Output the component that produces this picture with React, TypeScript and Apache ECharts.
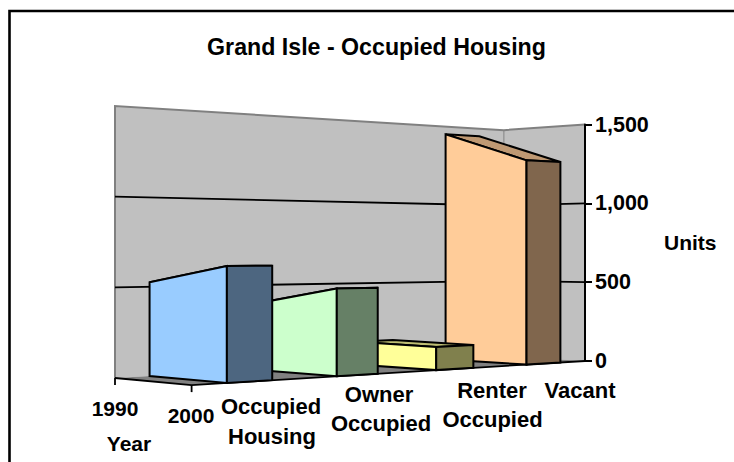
import React, { useEffect, useRef } from "react";
import * as echarts from "echarts";

const title = "Grand Isle - Occupied Housing";
const categories = ["Occupied Housing", "Owner Occupied", "Renter Occupied", "Vacant"];
const years = ["1990", "2000"];
const values1990 = [525, 393, 140, 1450];
const values2000 = [620, 490, 136, 1255];
const faceColors = ["#99CCFF", "#CCFFCC", "#FFFF99", "#FFCC99"];
const sideColors = ["#4D6680", "#668066", "#80804D", "#80664D"];
const topColors = ["#7399BF", "#99BF99", "#BFBF73", "#BF9973"];
const yMax = 1500;
const yStep = 500;
const ribbonWidth = 0.4; // share of a category band

const GRID = { left: 115, right: 149, top: 124.5, bottom: 101, outerBoundsMode: "none" };
const W = 734;
const H = 462;

// perspective of the plot box: u along categories, v from 1990 to 2000, w up the value axis
function project(u: number, v: number, w: number): number[] {
  const d = 1 + 0.2035 * u - 0.0535 * v;
  return [
    (115 + 491.4 * u + 66.35 * v) / d,
    (378 + 50.65 * u - 13.5 * v - 272 * w) / d,
  ];
}

const LABEL_FONT = { fontFamily: "Liberation Sans", fontWeight: "bold", fill: "#000" };

function labelText(text: string, x: number, y: number, fontSize: number) {
  return {
    type: "text",
    x,
    y,
    silent: true,
    style: { text, fontSize, textAlign: "center", textVerticalAlign: "middle", ...LABEL_FONT },
  };
}

function renderRoom(params: any, api: any) {
  const bottom = api.coord([0, 0])[1];
  const top = api.coord([0, yMax])[1];
  const wOf = (value: number) => (bottom - api.coord([0, value])[1]) / (bottom - top);
  const poly = (pts: number[][], style: any) => ({ type: "polygon", silent: true, shape: { points: pts }, style });
  const line = (pts: number[][], stroke: string, lineWidth: number) => ({
    type: "polyline",
    silent: true,
    shape: { points: pts },
    style: { stroke, lineWidth, fill: "none" },
  });
  const children: any[] = [
    poly([project(0, 0, 0), project(1, 0, 0), project(1, 0, 1), project(0, 0, 1)], { fill: "#C0C0C0" }),
    poly([project(1, 0, 0), project(1, 1, 0), project(1, 1, 1), project(1, 0, 1)], { fill: "#C0C0C0" }),
    line([project(0, 0, 0), project(0, 0, 1), project(1, 0, 1), project(1, 1, 1)], "#808080", 2),
    line([project(1, 0, 0), project(1, 0, 1)], "#808080", 1),
    poly([project(0, 0, 0), project(1, 0, 0), project(1, 1, 0), project(0, 1, 0)], { fill: "#808080" }),
  ];
  for (let value = yStep; value < yMax; value += yStep) {
    const w = wOf(value);
    children.push(line([project(0, 0, w), project(1, 0, w), project(1, 1, w)], "#000", 1.8));
  }
  children.push(line([project(0, 0, 0), project(0, 1, 0), project(1, 1, 0)], "#000", 1.8));
  years.forEach((_, i) => {
    const p = project(0, i, 0);
    children.push(line([p, [p[0], p[1] + 7]], "#000", 1.8));
  });
  return { type: "group", children };
}

function renderRibbon(params: any, api: any) {
  const idx = api.value(0);
  const bottom = api.coord([idx, 0])[1];
  const top = api.coord([idx, yMax])[1];
  const band = api.size([1, 0])[0];
  const left = api.coord([0, 0])[0] - band / 2;
  const span = band * categories.length;
  const cx = api.coord([idx, 0])[0];
  const u0 = (cx - (band * ribbonWidth) / 2 - left) / span;
  const u1 = (cx + (band * ribbonWidth) / 2 - left) / span;
  const w0 = (bottom - api.coord([idx, api.value(1)])[1]) / (bottom - top);
  const w1 = (bottom - api.coord([idx, api.value(2)])[1]) / (bottom - top);
  const face = (pts: number[][], fill: string) => ({
    type: "polygon",
    shape: { points: pts },
    style: { fill, stroke: "#000", lineWidth: 2, lineJoin: "miter" },
  });
  return {
    type: "group",
    children: [
      face([project(u0, 0, w0), project(u1, 0, w0), project(u1, 1, w1), project(u0, 1, w1)], topColors[idx]),
      face([project(u0, 0, 0), project(u0, 0, w0), project(u0, 1, w1), project(u0, 1, 0)], faceColors[idx]),
      face([project(u0, 1, 0), project(u0, 1, w1), project(u1, 1, w1), project(u1, 1, 0)], sideColors[idx]),
    ],
  };
}

export default function App() {
  const ref = useRef<HTMLDivElement>(null);
  useEffect(() => {
    document.body.style.margin = "0";
    const chart = echarts.init(ref.current!, null, { renderer: "svg" });
    const ribbons = categories
      .map((name, i) => ({
        type: "custom",
        name,
        coordinateSystem: "cartesian2d",
        renderItem: renderRibbon,
        encode: { x: 0, y: [1, 2] },
        data: [[i, values1990[i], values2000[i]]],
        z: 3,
      }))
      .reverse();
    chart.setOption({
      animation: false,
      backgroundColor: "#fff",
      title: {
        text: title,
        left: 371.5,
        top: 30,
        textAlign: "center",
        textStyle: { fontFamily: "Liberation Sans", fontWeight: "bold", fontSize: 23.2, color: "#000" },
      },
      grid: GRID,
      xAxis: { type: "category", data: categories, show: false },
      yAxis: {
        type: "value",
        position: "right",
        min: 0,
        max: yMax,
        interval: yStep,
        name: "Units",
        nameLocation: "middle",
        nameRotate: 0,
        nameGap: 79,
        nameMoveOverlap: false,
        nameTextStyle: { fontFamily: "Liberation Sans", fontWeight: "bold", fontSize: 21, color: "#000" },
        axisLine: { show: true, lineStyle: { color: "#000", width: 2 } },
        axisTick: { show: true, length: 7, lineStyle: { color: "#000", width: 2 } },
        axisLabel: { margin: 10, fontFamily: "Liberation Sans", fontWeight: "bold", fontSize: 21.5, color: "#000" },
        splitLine: { show: false },
        z: 10,
      },
      series: [
        {
          type: "custom",
          name: "Plot box",
          coordinateSystem: "cartesian2d",
          renderItem: renderRoom,
          encode: { x: 0, y: 1 },
          data: [[0, 0]],
          z: 1,
          silent: true,
        },
        ...ribbons,
      ],
      graphic: {
        elements: [
          {
            type: "polyline",
            silent: true,
            shape: { points: [[9.5, H], [9.5, 11], [W, 11]] },
            style: { stroke: "#000", lineWidth: 2.6, fill: "none" },
          },
          labelText(years[0], 115, 408, 21),
          labelText(years[1], 191, 415, 21),
          labelText("Year", 129, 443, 21),
          labelText("Occupied", 271, 406, 22),
          labelText("Housing", 272, 436, 22),
          labelText("Owner", 379, 394, 22),
          labelText("Occupied", 381, 423, 22),
          labelText("Renter", 492, 390, 22),
          labelText("Occupied", 492.5, 419, 22),
          labelText("Vacant", 580, 390, 22),
        ],
      },
    });
    return () => chart.dispose();
  }, []);
  return <div ref={ref} style={{ width: W, height: H }} />;
}
